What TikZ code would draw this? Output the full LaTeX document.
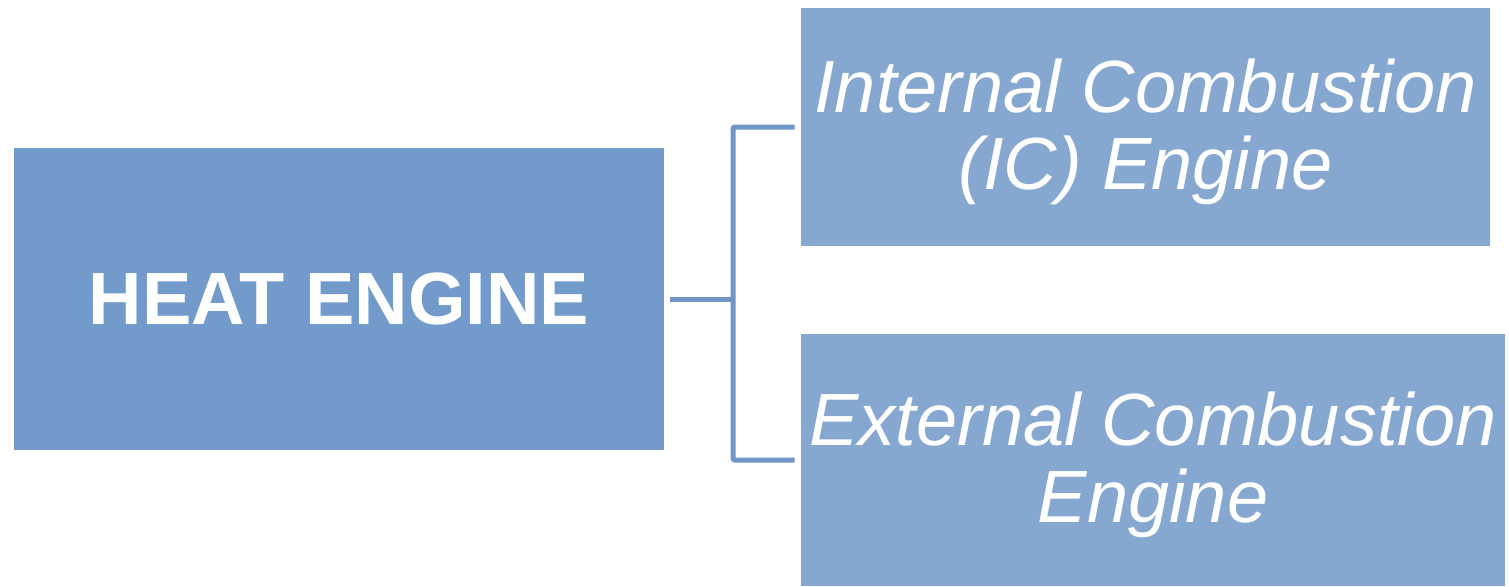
\documentclass[tikz,border=0pt]{standalone}
\usepackage{fontspec}
\setmainfont{Liberation Sans}
\usepackage{xcolor}
\usetikzlibrary{calc}
\definecolor{heatblue}{RGB}{114,155,203}
\definecolor{typeblue}{RGB}{133,167,208}
\definecolor{linkblue}{RGB}{112,150,200}
\tikzset{
	heatbox/.style={fill=heatblue,text=white,inner sep=0pt,align=center,
		minimum width=325pt,minimum height=151pt,
		font=\fontsize{37}{38.5}\selectfont\bfseries},
	typebox/.style={fill=typeblue,text=white,inner sep=0pt,align=center,text depth=3pt,
		font=\fontsize{37}{38.5}\selectfont\itshape},
	link/.style={draw=linkblue,line width=2.5pt,rounded corners=1pt}
}

\begin{document}
\begin{tikzpicture}[x=0.5pt,y=-0.5pt]
	\useasboundingbox (0,0) rectangle (1509,586);
	\node[heatbox] (heat) at (339,299) {HEAT ENGINE};
	\node[typebox,minimum width=344.5pt,minimum height=119pt] (ic) at (1145.5,127) {Internal Combustion\\(IC) Engine};
	\node[typebox,minimum width=352pt,minimum height=126pt] (ec) at (1153,460) {External Combustion\\Engine};
	\coordinate (fork) at (733,299);
	\draw[link] ([xshift=3pt]heat.east) -- (fork);
	\draw[link] ([xshift=-3pt]ic.west) -| (fork) |- ([xshift=-3pt]ec.west);
\end{tikzpicture}
\end{document}
